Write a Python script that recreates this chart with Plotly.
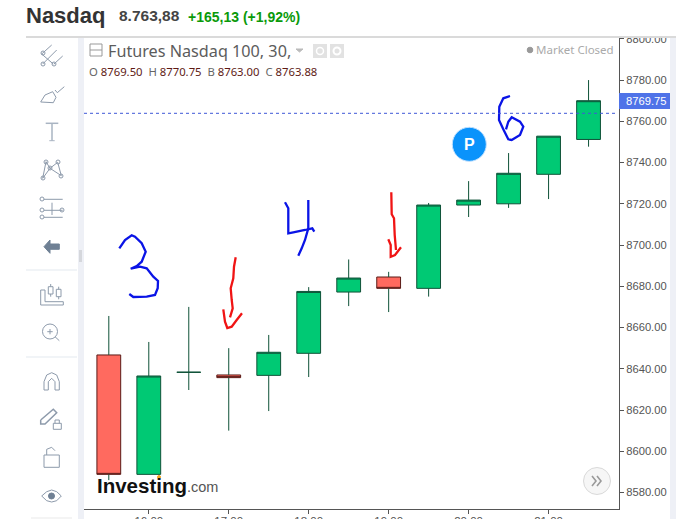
import plotly.graph_objects as go

# ---------- data ----------
day = "2020-01-14 "
times = ["15:30","16:00","16:30","17:00","17:30","18:00","18:30","19:00","19:30","20:00","20:30","21:00","21:30"]
opens  = [8646.7,8588.8,8638.3,8637.0,8636.8,8647.5,8677.2,8684.5,8679.0,8719.4,8720.0,8734.3,8751.2]
highs  = [8665.6,8653.0,8670.0,8650.0,8656.4,8679.6,8693.0,8687.0,8720.4,8731.0,8744.6,8752.8,8780.0]
lows   = [8586.0,8588.8,8629.7,8610.0,8619.5,8636.0,8670.4,8667.5,8675.0,8713.6,8718.0,8722.3,8747.7]
closes = [8588.8,8636.5,8638.3,8635.7,8648.0,8677.5,8684.0,8679.0,8719.4,8721.8,8734.8,8752.8,8770.0]
last_close = 8763.88
tag_price = "8769.75"
y_ticks = [8580,8600,8620,8640,8660,8680,8700,8720,8740,8760,8780,8800]

W, H = 694, 519
L, R, T, B = 84, 619, 38, 509
GREEN, GREEN_D = "#00C974", "#0F5238"
RED, RED_D = "#FF6A5F", "#5A1C18"
ICON = "#8D9AAB"

xs = [day + t for t in times]
up = [i for i in range(len(xs)) if closes[i] >= opens[i]]
dn = [i for i in range(len(xs)) if closes[i] < opens[i]]

fig = go.Figure()

# wicks of falling candles stay dark green, body border dark red
wx, wy = [], []
for i in dn:
    wx += [xs[i], xs[i], None, xs[i], xs[i], None]
    wy += [highs[i], max(opens[i], closes[i]), None, min(opens[i], closes[i]), lows[i], None]
fig.add_trace(go.Scatter(x=wx, y=wy, mode="lines", line=dict(color=GREEN_D, width=1), hoverinfo="skip", showlegend=False))

o2 = list(opens); h2 = list(highs); l2 = list(lows); c2 = list(closes)
for i in dn:
    h2[i] = max(opens[i], closes[i]); l2[i] = min(opens[i], closes[i])
fig.add_trace(go.Candlestick(
    x=xs, open=o2, high=h2, low=l2, close=c2, whiskerwidth=0,
    increasing=dict(line=dict(color=GREEN_D, width=1), fillcolor=GREEN),
    decreasing=dict(line=dict(color=RED_D, width=1), fillcolor=RED),
    showlegend=False))

# invisible page-pixel axes for the overlay decoration
fig.add_trace(go.Scatter(x=[0], y=[0], xaxis="x2", yaxis="y2", mode="markers", marker=dict(opacity=0), hoverinfo="skip", showlegend=False))

shapes = []
def px_path(pts, color, width=1.0, ox=0, oy=0, s=1.0, closed=False):
    d = "M " + " L ".join(f"{ox+x/s:.1f},{oy+y/s:.1f}" for x, y in pts) + (" Z" if closed else "")
    shapes.append(dict(type="path", path=d, xref="x2", yref="y2", line=dict(color=color, width=width), layer="above"))
def rect(x0, y0, x1, y1, color):
    shapes.append(dict(type="rect", x0=x0, x1=x1, y0=y0, y1=y1, xref="x2", yref="y2", fillcolor=color, line=dict(width=0), layer="above"))
def circ(cx, cy, r, line=ICON, fill="rgba(0,0,0,0)", w=1.0):
    shapes.append(dict(type="circle", x0=cx-r, x1=cx+r, y0=cy-r, y1=cy+r, xref="x2", yref="y2",
                       fillcolor=fill, line=dict(color=line, width=w), layer="above"))

# chrome
rect(0, 0, W, 36.5, "#FFFFFF")
rect(26, 36, 676, 38, "#DADADA")
rect(78, 38, 84, H, "#EEF0F6")
rect(670, 38, 676, H, "#EEF0F6")
rect(676, 38, W, H, "#FFFFFF")
rect(79, 250, 82, 262, "#D5D7DC")
rect(26, 269.5, 77, 270.5, "#E3E9EF")
rect(26, 356.5, 77, 357.5, "#E3E9EF")
rect(31, 517, 72, H, "#F4F4F4")
rect(619, 93, 670, 109, "#4F73E8")

# hand-drawn strokes
BLUE, HRED = "#0A14E6", "#F01414"
SW = 2.3
px_path([(88,85),(105,60),(125,46),(135,50),(155,70),(167,95),(155,125),(140,138),(122,146),(150,140),(170,145),(190,170),(204,183),(203,205),(195,225),(170,230),(130,231),(118,222)], BLUE, SW, 90, 220, 3)
px_path([(437,112),(432,140),(430,175),(422,205),(425,240),(428,265),(420,292)], HRED, SW, 90, 220, 3)
px_path([(400,268),(405,305),(412,324),(425,320),(440,300),(456,280)], HRED, SW, 90, 220, 3)
px_path([(45,52),(55,70),(55,145),(70,142),(105,135),(127,130),(133,140)], BLUE, SW, 270, 185, 3)
px_path([(115,45),(115,130),(105,165),(95,190),(85,212)], BLUE, SW, 270, 185, 3)
px_path([(364,22),(365,88),(372,100),(374,150),(378,195)], HRED, SW, 270, 185, 3)
px_path([(355,163),(362,180),(362,215),(375,210),(393,187)], HRED, SW, 270, 185, 3)
px_path([(210,18),(190,25),(178,50),(177,90),(190,118),(205,148),(215,150),(240,135),(250,110),(240,95),(215,82),(205,95),(198,118)], BLUE, SW, 440, 90, 3)

# toolbar icons (zoom-crop coordinates)
a = dict(ox=0, oy=40, s=3)
px_path([(125,42),(155,15)], ICON, 1, **a); px_path([(128,72),(170,30)], ICON, 1, **a); px_path([(162,72),(188,48)], ICON, 1, **a)
px_path([(125,42),(160,72)], ICON, 1, **a)
circ(43, 53, 2); circ(43, 64, 2); circ(54, 64, 2)
px_path([(122,186),(135,165),(158,155),(168,172),(160,188),(122,186)], ICON, 1, **a)
px_path([(165,150),(172,158),(193,140)], ICON, 1, **a)
px_path([(137,250),(175,250)], "#A9B4C2", 1.5, **a); px_path([(156,250),(156,302)], "#A9B4C2", 1.5, **a); px_path([(148,302),(164,302)], "#A9B4C2", 1, **a)
px_path([(128,415),(138,365),(150,385),(173,367),(184,407),(150,385),(128,415)], ICON, 1, **a)
circ(43, 178, 2); circ(46, 162, 2); circ(50, 168, 2); circ(58, 162, 2); circ(61, 176, 2)
for yy in (478, 511, 532):
    px_path([(132,yy),(188,yy)], ICON, 1, **a)
circ(42, 199, 2); circ(42, 210, 2); circ(62, 210, 2); circ(42, 217, 2)
px_path([(156,488),(156,525)], ICON, 1, **a)
px_path([(132,620),(150,600),(150,612),(178,612),(178,628),(150,628),(150,640),(132,620)], "#6F8094", 1, closed=True, **a)
shapes[-1]["fillcolor"] = "#6F8094"
b = dict(ox=0, oy=270, s=3)
px_path([(122,60),(122,105),(190,105),(190,95),(135,95),(135,60),(122,60)], ICON, 1, **b)
for xx, y0, y1 in ((152, 42, 80), (176, 50, 88)):
    px_path([(xx, y0), (xx, y1)], ICON, 1, **b)
    rect(xx/3-2.3, 270+(y0+8)/3, xx/3+2.3, 270+(y1-8)/3, "#FFFFFF")
    px_path([(xx-7,y0+8),(xx+7,y0+8),(xx+7,y1-8),(xx-7,y1-8),(xx-7,y0+8)], ICON, 1, **b)
circ(50, 331.5, 7.5); px_path([(165,200),(178,212)], ICON, 1, **b)
px_path([(142,185),(158,185)], ICON, 1, **b); px_path([(150,177),(150,193)], ICON, 1, **b)
px_path([(132,360),(132,335),(140,315),(155,308),(170,315),(178,335),(178,360),(165,360),(165,335),(155,325),(145,335),(145,360),(132,360)], ICON, 1, **b)
px_path([(122,450),(160,418),(170,428),(135,462),(122,462),(122,450)], ICON, 1.5, **b)
px_path([(160,460),(184,460),(184,478),(160,478),(160,460)], ICON, 1, **b)
px_path([(165,460),(165,450),(178,450),(178,460)], ICON, 1, **b)
px_path([(132,555),(178,555),(178,592),(132,592),(132,555)], ICON, 1, **b)
px_path([(140,555),(140,538),(155,532),(165,542)], ICON, 1, **b)
px_path([(125,678),(140,665),(155,660),(170,665),(184,678),(170,692),(155,696),(140,692),(125,678)], ICON, 1, **b)
circ(51.5, 496, 3, line="#6F8094", fill="#6F8094")

# legend header furniture
px_path([(90,44),(102,44),(102,56),(90,56),(90,44)], "#999999", 1)
px_path([(90,50),(102,50)], "#999999", 1)
px_path([(296,49),(303,49),(299.5,52),(296,49)], "#BBBBBB", 1, closed=True)
shapes[-1]["fillcolor"] = "#BBBBBB"
rect(313, 44, 327, 58, "#E2E2E2"); rect(330, 44, 344, 58, "#E2E2E2")
circ(320, 51, 3.5, line="#FFFFFF", w=1.5); circ(337, 51, 3.5, line="#FFFFFF", w=2)
circ(530, 50, 2.8, line="#999999", fill="#999999")

# P badge, scroll button, logo dot
circ(469.3, 144.3, 17, line="#BFE0FF", fill="#0A93FB", w=1)
circ(597, 481, 13.5, line="#D9D9D9", fill="#F6F6F6", w=1)
px_path([(592,476),(596,481),(592,486)], "#9A9A9A", 1.6)
px_path([(597,476),(601,481),(597,486)], "#9A9A9A", 1.6)
circ(159, 477, 1.5, line="#F5A623", fill="#F5A623")

# last-price dotted line, through the library's scales
shapes.append(dict(type="line", xref="x2", yref="y", x0=L, x1=R-2, y0=last_close, y1=last_close,
                   line=dict(color="#3F58D8", width=1, dash="dot"), layer="above"))

def txt(x, y, s, size, color, font="Liberation Sans", bold=False, anchor="left"):
    return dict(xref="paper", yref="paper", x=x/W, y=1-y/H, text=f"<b>{s}</b>" if bold else s, showarrow=False,
                xanchor=anchor, yanchor="middle", font=dict(size=size, color=color, family=font), borderpad=0, borderwidth=0)

DR = "#5E1A14"; GL = "#666666"
ohlc = (f"<span style='color:{GL}'>O</span> <span style='color:{DR}'>8769.50</span>&nbsp; "
        f"<span style='color:{GL}'>H</span> <span style='color:{DR}'>8770.75</span>&nbsp; "
        f"<span style='color:{GL}'>B</span> <span style='color:{DR}'>8763.00</span>&nbsp; "
        f"<span style='color:{GL}'>C</span> <span style='color:{DR}'>8763.88</span>")
annotations = [
    txt(26, 15, "Nasdaq", 22, "#333333", bold=True),
    txt(118.5, 16, "8.763,88", 15.5, "#444444", bold=True),
    txt(188, 17, "+165,13 (+1,92%)", 14, "#0A9A0A", bold=True),
    txt(107.5, 51, "Futures Nasdaq 100, 30,", 16.2, "#5C5C5C", font="Noto Sans"),
    txt(88.5, 72, ohlc, 11.3, DR, font="Noto Sans"),
    txt(536, 50, "Market Closed", 11.5, "#AAAAAA", font="Noto Sans"),
    txt(625.5, 101, tag_price, 11.2, "#FFFFFF"),
    txt(469.3, 144.5, "P", 16, "#FFFFFF", bold=True, anchor="center"),
    txt(96.5, 485, "Investing", 20.5, "#111111", bold=True),
    txt(187, 487, ".com", 14.5, "#555555"),
]

tick_color = "#555555"
fig.update_layout(
    width=W, height=H, margin=dict(l=0, r=0, t=0, b=0, pad=0, autoexpand=False), paper_bgcolor="#FFFFFF", plot_bgcolor="rgba(0,0,0,0)",
    font=dict(family="Liberation Sans", size=12, color=tick_color), showlegend=False, boxgap=0.15,
    xaxis=dict(domain=[L/W, R/W], type="date", anchor="y",
               range=[day + "15:11:23", day + "21:52:51"], rangeslider=dict(visible=False),
               tick0=day + "16:00", dtick=3600000, tickformat="%H:%M", showgrid=False, zeroline=False,
               showline=True, linecolor="#555555", linewidth=1, ticks="outside", ticklen=4, tickcolor="#555555",
               ticklabelstandoff=-3, tickfont=dict(size=11.5, color=tick_color)),
    yaxis=dict(domain=[1-B/H, 1-T/H], anchor="x", side="right", range=[8572.0, 8800.4],
               tickmode="array", tickvals=y_ticks, ticktext=[f"{v:.2f}" for v in y_ticks],
               showgrid=False, zeroline=False, showline=True, linecolor="#555555", linewidth=1,
               ticks="outside", ticklen=4, tickcolor="#555555", tickfont=dict(size=11.2, color=tick_color)),
    xaxis2=dict(domain=[0, 1], range=[0, W], visible=False, anchor="y2", fixedrange=True),
    yaxis2=dict(domain=[0, 1], range=[H, 0], visible=False, anchor="x2", fixedrange=True),
    shapes=shapes, annotations=annotations,
)
fig.write_html("out.html", config=dict(displayModeBar=False),
               post_script="document.body.style.margin='0';document.body.style.overflow='hidden';")
